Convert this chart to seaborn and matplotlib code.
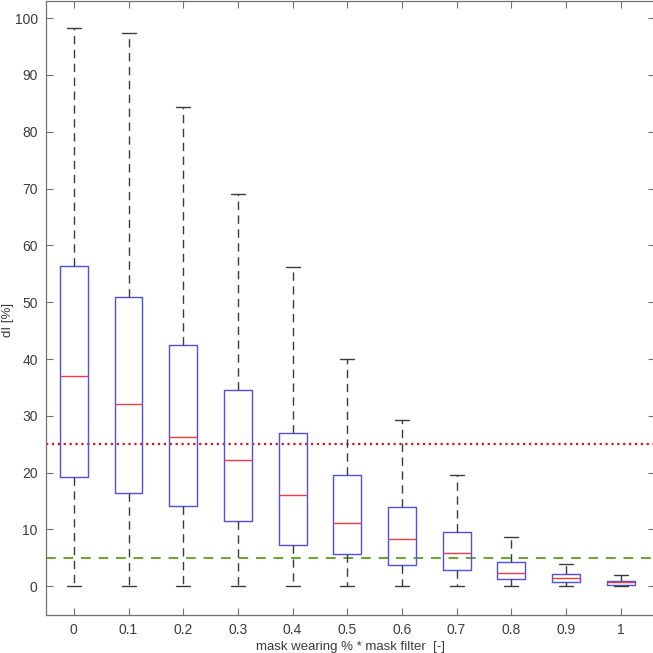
import numpy as np
import pandas as pd
import seaborn as sns
import matplotlib.pyplot as plt

# =============================================================================
# DATA (lower whisker, Q1, median, Q3, upper whisker)
# =============================================================================

categories = ["0", "0.1", "0.2", "0.3", "0.4", "0.5", "0.6", "0.7", "0.8", "0.9", "1"]

whisker_low = [0, 0, 0, 0, 0, 0, 0, 0, 0, 0, 0]
q1 = [19.2, 16.4, 14.2, 11.5, 7.3, 5.6, 3.8, 2.9, 1.2, 0.75, 0.25]
median = [37.0, 32.0, 26.3, 22.3, 16.0, 11.2, 8.3, 5.8, 2.4, 1.4, 0.7]
q3 = [56.3, 51.0, 42.4, 34.6, 26.9, 19.5, 13.9, 9.5, 4.3, 2.1, 1.0]
whisker_high = [98.2, 97.4, 84.3, 69.1, 56.2, 40.0, 29.3, 19.6, 8.7, 4.0, 1.9]

threshold_red = 25
threshold_green = 5

# five points per group -> quartiles fall exactly on q1 / median / q3
rows = []
for i, cat in enumerate(categories):
    for v in [whisker_low[i], q1[i], median[i], q3[i], whisker_high[i]]:
        rows.append({"x": cat, "y": v})
df = pd.DataFrame(rows)

# =============================================================================
# PLOT
# =============================================================================

sns.set_style("white")
plt.rcParams["font.family"] = ["Liberation Sans", "DejaVu Sans"]

fig = plt.figure(figsize=(6.53, 6.53), dpi=100)
ax = fig.add_axes([0.0704, 0.0587, 0.932, 0.9405])

box_color = "#5050e6"

sns.boxplot(
    data=df,
    x="x",
    y="y",
    order=categories,
    whis=np.inf,
    width=0.51,
    fill=False,
    linewidth=1.0,
    boxprops=dict(color=box_color),
    medianprops=dict(color="#f03c3c"),
    whiskerprops=dict(color="#3a3a3a", linestyle=(0, (6, 4))),
    capprops=dict(color="#3a3a3a"),
    showfliers=False,
    ax=ax
)

ax.axhline(threshold_red, color="#e01010", linestyle=":", linewidth=1.6, zorder=0.5)
ax.axhline(threshold_green, color="#6aa52a", linestyle=(0, (5, 4)), linewidth=1.4, zorder=0.5)

ax.set_xlim(-0.51, 10.62)
ax.set_ylim(-5, 103.1)
ax.set_yticks(np.arange(0, 101, 10))

text_color = "#3c3c3c"
ax.set_xlabel("mask wearing % * mask filter  [-]", fontsize=9.5, color=text_color, labelpad=3)
ax.set_ylabel("dI [%]", fontsize=9.5, color=text_color)
ax.yaxis.set_label_coords(-0.052, 0.48)

ax.tick_params(
    direction="in",
    length=5,
    width=0.8,
    colors="#707070",
    labelcolor=text_color,
    labelsize=10,
    top=True,
    right=True,
    bottom=True,
    left=True,
    pad=6
)

for spine in ax.spines.values():
    spine.set_color("#707070")
    spine.set_linewidth(0.9)

fig.savefig("out.png", dpi=100)
